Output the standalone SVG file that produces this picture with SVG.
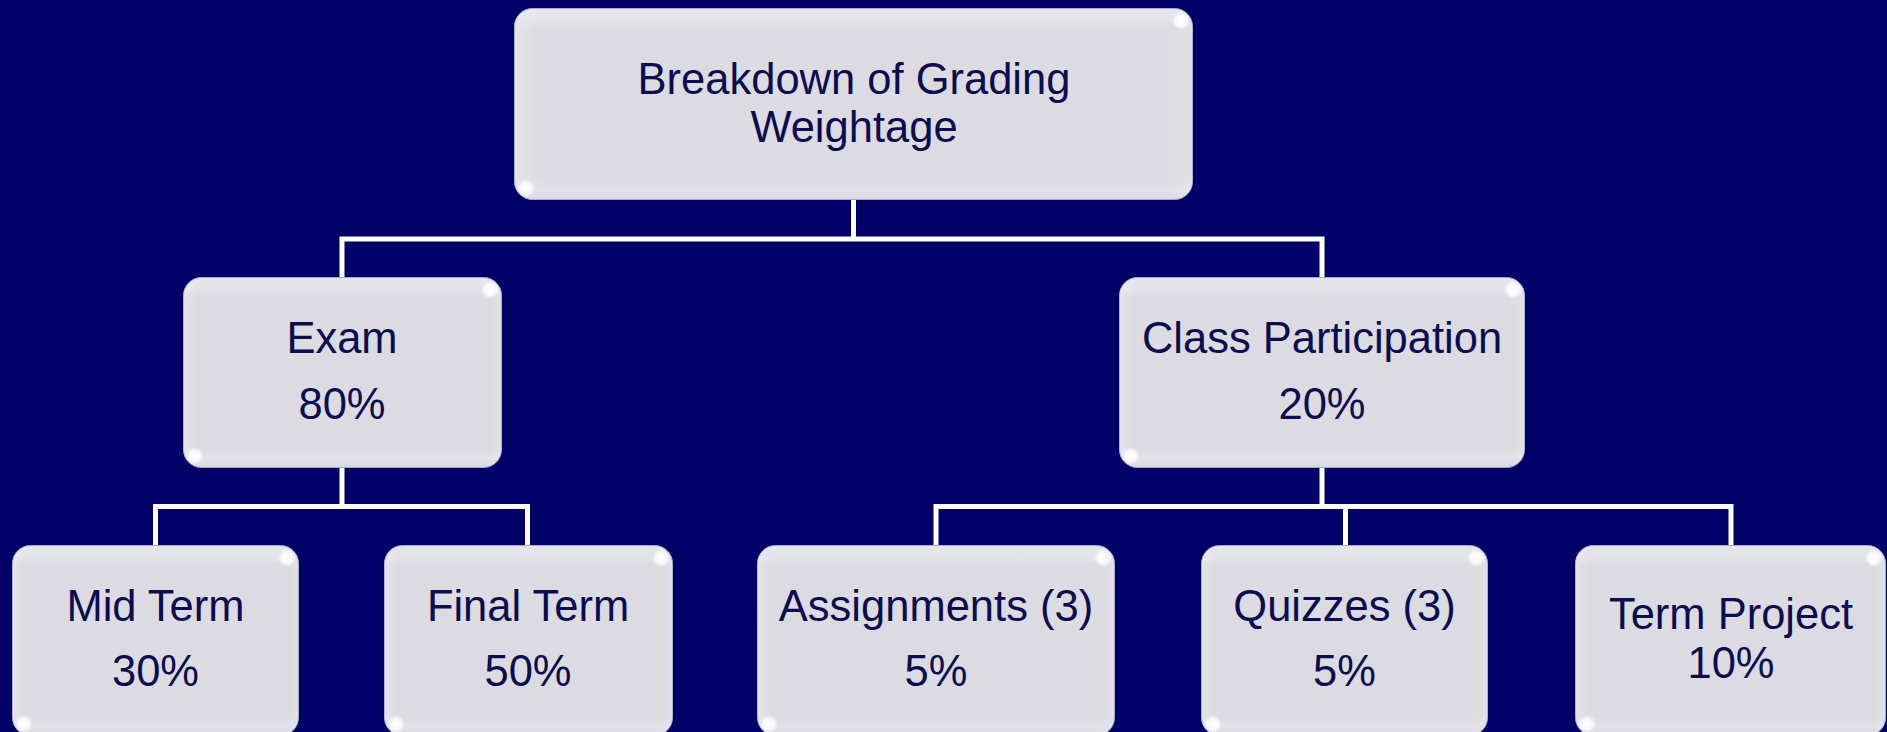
<svg xmlns="http://www.w3.org/2000/svg" width="1887" height="732" viewBox="0 0 1887 732">
  <defs>
    <linearGradient id="boxFill" x1="0" y1="0" x2="0" y2="1">
      <stop offset="0" stop-color="#e6e5ea"/>
      <stop offset="0.07" stop-color="#e3e2e8"/>
      <stop offset="0.1" stop-color="#dcdbe1"/>
      <stop offset="0.9" stop-color="#dcdbe1"/>
      <stop offset="0.95" stop-color="#e3e2e8"/>
      <stop offset="1" stop-color="#dad9e2"/>
    </linearGradient>
    <linearGradient id="sideSheen" x1="0" y1="0" x2="1" y2="0">
      <stop offset="0" stop-color="#ffffff" stop-opacity="0.25"/>
      <stop offset="0.04" stop-color="#ffffff" stop-opacity="0"/>
      <stop offset="0.96" stop-color="#ffffff" stop-opacity="0"/>
      <stop offset="1" stop-color="#ffffff" stop-opacity="0.15"/>
    </linearGradient>
    <radialGradient id="glint">
      <stop offset="0" stop-color="#ffffff" stop-opacity="1"/>
      <stop offset="0.6" stop-color="#ffffff" stop-opacity="0.8"/>
      <stop offset="1" stop-color="#ffffff" stop-opacity="0"/>
    </radialGradient>
    <!-- glossy rounded card; fills are in bounding-box units so one set serves every size -->
    <style>
      .bg { fill: #000066; }
      .box { fill: url(#boxFill); stroke: #a8a7c6; stroke-width: 1; }
      .sheen { fill: url(#sideSheen); }
      .glint { fill: url(#glint); }
      .link { fill: none; stroke: #ffffff; stroke-width: 5; stroke-linecap: butt; stroke-linejoin: miter; }
      .label { font-family: "Liberation Sans", Arial, sans-serif; font-size: 43.5px; fill: #0c0c50; text-anchor: middle; }
    </style>
  </defs>

  <rect class="bg" x="0" y="0" width="1887" height="732"/>

  <!-- tree connectors -->
  <g id="connectors">
    <path class="link" d="M853.5,200 V239"/>
    <path class="link" d="M342,277 V239 H1322 V277"/>
    <path class="link" d="M342,468 V506.5"/>
    <path class="link" d="M155.5,545 V506.5 H527.5 V545"/>
    <path class="link" d="M1322,468 V506.5"/>
    <path class="link" d="M936,545 V506.5 H1731 V545"/>
    <path class="link" d="M1345.5,506.5 V545"/>
  </g>

  <g id="node-root">
    <rect class="box" x="514.5" y="8.5" width="678" height="191" rx="18"/>
    <rect class="sheen" x="514.5" y="8.5" width="678" height="191" rx="18"/>
    <circle class="glint" cx="1181" cy="21" r="9"/>
    <circle class="glint" cx="526" cy="188" r="9"/>
    <text class="label" x="854" y="94">Breakdown of Grading</text>
    <text class="label" x="854" y="142">Weightage</text>
  </g>

  <g id="node-exam">
    <rect class="box" x="183.5" y="277.5" width="318" height="190" rx="18"/>
    <rect class="sheen" x="183.5" y="277.5" width="318" height="190" rx="18"/>
    <circle class="glint" cx="490" cy="290" r="9"/>
    <circle class="glint" cx="195" cy="456" r="9"/>
    <text class="label" x="342" y="353">Exam</text>
    <text class="label" x="342" y="419">80%</text>
  </g>

  <g id="node-participation">
    <rect class="box" x="1119.5" y="277.5" width="405" height="190" rx="18"/>
    <rect class="sheen" x="1119.5" y="277.5" width="405" height="190" rx="18"/>
    <circle class="glint" cx="1513" cy="290" r="9"/>
    <circle class="glint" cx="1131" cy="456" r="9"/>
    <text class="label" x="1322" y="353">Class Participation</text>
    <text class="label" x="1322" y="419">20%</text>
  </g>

  <g id="node-midterm">
    <rect class="box" x="12.5" y="545.5" width="286" height="190" rx="18"/>
    <rect class="sheen" x="12.5" y="545.5" width="286" height="190" rx="18"/>
    <circle class="glint" cx="287" cy="558" r="9"/>
    <circle class="glint" cx="24" cy="724" r="9"/>
    <text class="label" x="155.5" y="621">Mid Term</text>
    <text class="label" x="155.5" y="686">30%</text>
  </g>

  <g id="node-finalterm">
    <rect class="box" x="384.5" y="545.5" width="288" height="190" rx="18"/>
    <rect class="sheen" x="384.5" y="545.5" width="288" height="190" rx="18"/>
    <circle class="glint" cx="661" cy="558" r="9"/>
    <circle class="glint" cx="396" cy="724" r="9"/>
    <text class="label" x="528" y="621">Final Term</text>
    <text class="label" x="528" y="686">50%</text>
  </g>

  <g id="node-assignments">
    <rect class="box" x="757.5" y="545.5" width="357" height="190" rx="18"/>
    <rect class="sheen" x="757.5" y="545.5" width="357" height="190" rx="18"/>
    <circle class="glint" cx="1103" cy="558" r="9"/>
    <circle class="glint" cx="769" cy="724" r="9"/>
    <text class="label" x="936" y="621">Assignments (3)</text>
    <text class="label" x="936" y="686">5%</text>
  </g>

  <g id="node-quizzes">
    <rect class="box" x="1201.5" y="545.5" width="286" height="190" rx="18"/>
    <rect class="sheen" x="1201.5" y="545.5" width="286" height="190" rx="18"/>
    <circle class="glint" cx="1476" cy="558" r="9"/>
    <circle class="glint" cx="1213" cy="724" r="9"/>
    <text class="label" x="1344.5" y="621">Quizzes (3)</text>
    <text class="label" x="1344.5" y="686">5%</text>
  </g>

  <g id="node-termproject">
    <rect class="box" x="1575.5" y="545.5" width="310" height="190" rx="18"/>
    <rect class="sheen" x="1575.5" y="545.5" width="310" height="190" rx="18"/>
    <circle class="glint" cx="1874" cy="558" r="9"/>
    <circle class="glint" cx="1587" cy="724" r="9"/>
    <text class="label" x="1731" y="629">Term Project</text>
    <text class="label" x="1731" y="678">10%</text>
  </g>
</svg>
